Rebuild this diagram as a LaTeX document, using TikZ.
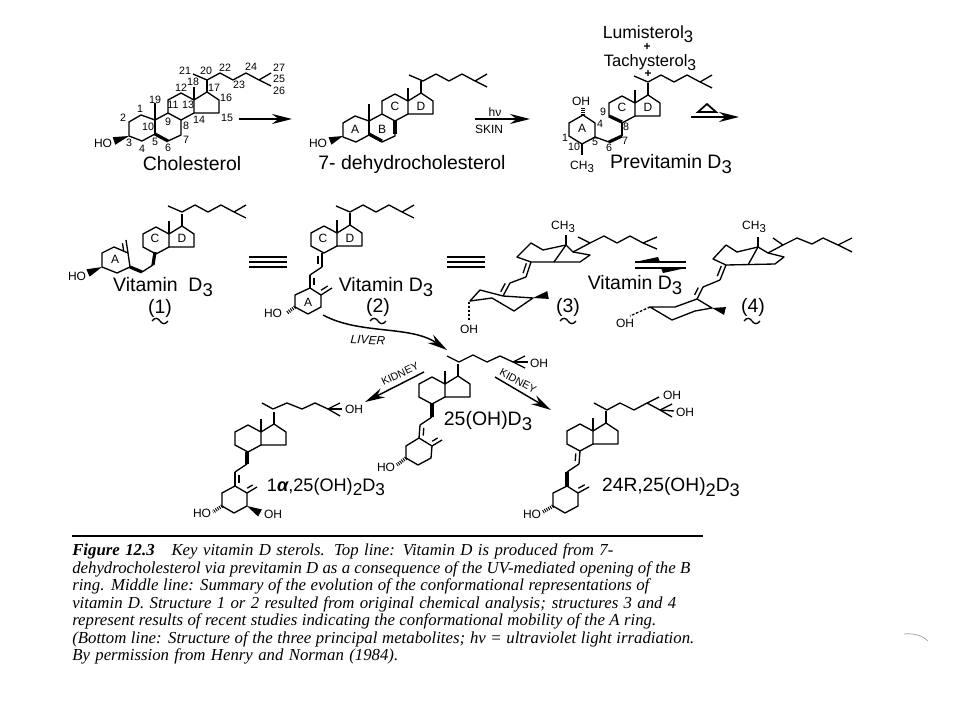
\documentclass[tikz,border=0pt]{standalone}
\usepackage{fontspec}
\setmainfont{Liberation Sans}
\newfontfamily\capfont{Liberation Serif}
\usetikzlibrary{arrows.meta,calc}

\newcommand{\subnum}[1]{\raisebox{-.45ex}{\scalebox{.95}{#1}}}
\newcommand{\wedgebond}[2]{\fill #1 -- ($#2!3pt!90:#1$) -- ($#2!3pt!-90:#1$) -- cycle;}
% second line of a double bond, #3 is 90 or -90 for the side
\newcommand{\dblbond}[3]{\draw[bond] #1 -- #2; \draw[bond, shorten >=2pt, shorten <=2pt] ($#1!3pt!#3:#2$) -- ($#2!3pt!-#3:#1$);}

\tikzset{
  bond/.style={line width=1pt, line join=round},
  boldbond/.style={line width=2.4pt},
  hashbond/.style={line width=2.6pt, dash pattern=on .7pt off .9pt},
  chemlab/.style={font=\fontsize{14.6}{16}\selectfont, inner sep=0pt},
  atomlab/.style={font=\fontsize{9}{10}\selectfont, inner sep=0pt},
  numlab/.style={font=\fontsize{8}{9}\selectfont, inner sep=0pt},
  caplab/.style={font=\capfont\itshape\fontsize{12.6}{14}\selectfont, anchor=base west, inner sep=0pt},
  react/.style={line width=1.1pt, -{Stealth[length=15pt,width=7.5pt]}},
  ringsCD/.pic={
    \draw[bond] (0,0) -- (-13,7) -- (-26,0) -- (-26,-13) -- (-13,-20) -- (0,-13) -- cycle;
    \draw[bond] (0,-13) -- (13,-21) -- (25,-13) -- (25,0) -- (0,0);
    \draw[bond] (0,-13) -- (0,-26);
    \draw[bond] (13,-21) -- (13,-33);
  },
  ringsAB/.pic={
    \draw[bond] (-13,7) -- (-13,22) -- (-26,28) -- (-39,21) -- (-52,28) -- (-65,23) -- (-65,9) -- (-53,2) -- (-39,7) -- (-26,0);
    \draw[bond] (-39,7) -- (-39,21);
    \draw[bond] (-39,7) -- (-39,-10);
  },
  chainend/.pic={
    \draw[bond] (-14,-6) -- (0,0) -- (13,-7) -- (26,0) -- (39,-7) -- (52,0);
    \draw[bond] (52,0) -- (64,-7);
    \draw[bond] (52,0) -- (64,6);
  },
  threebars/.pic={
    \draw[bond] (0,0) -- (38,0);
    \draw[bond] (0,5) -- (38,5);
    \draw[bond] (0,10) -- (38,10);
  },
  wavy/.pic={
    \draw[bond] (-8,0) .. controls (-5,-4) and (-2,-3) .. (0,0) .. controls (2,3) and (5,4) .. (8,0);
  },
}

\begin{document}
\begin{tikzpicture}[x=.75pt,y=-.75pt]
  \useasboundingbox (0,0) rectangle (960,720);

  % top line: cholesterol
  \pic at (194,113) {ringsCD};
  \pic at (194,113) {ringsAB};
  \pic at (207,80) {chainend};
  \draw[boldbond] (155,134) -- (168,141);
  \wedgebond{(129,136)}{(114,141)}
  \node[atomlab] (chol-ho) at (103,143) {HO};
  \foreach \numtxt/\numx/\numy in {21/185/71, 20/206/71, 22/225/68, 24/251/67, 27/279/68, 25/279/79,
      26/279/91, 23/239/85, 18/193/82, 17/214/88, 12/181/88, 16/226/98, 11/173/105, 13/188/105,
      19/155/100, 1/140/109, 2/123/118, 10/148/127, 9/168/122, 8/186/126, 14/199/120, 15/227/118,
      7/186/140, 6/168/148, 5/155/142, 4/142/149, 3/129/143}
    \node[numlab] (chol-\numtxt) at (\numx,\numy) {\numtxt};
  \node[chemlab] (chol-name) at (192,164) {Cholesterol};
  \draw[react] (239,119) -- (292,119);

  % 7-dehydrocholesterol
  \pic at (408,114) {ringsCD};
  \pic at (408,114) {ringsAB};
  \pic at (423,81) {chainend};
  \draw[boldbond] (369,134) -- (382,141);
  \draw[boldbond] (395,134) -- (395,121);
  \wedgebond{(343,136)}{(330,141)}
  \node[atomlab] (dhc-ho) at (318,143) {HO};
  \node[atomlab] (dhc-a) at (355,129) {A};
  \node[atomlab] (dhc-b) at (382,129) {B};
  \node[atomlab] (dhc-c) at (395,106) {C};
  \node[atomlab] (dhc-d) at (421,106) {D};
  \node[chemlab] (dhc-name) at (412,164) {7- dehydrocholesterol};
  \draw[react] (475,119) -- (530,119);
  \node[atomlab] (hv-lab) at (495,112) {hν};
  \node[atomlab] (skin-lab) at (489,129) {SKIN};

  % previtamin
  \pic at (635,116) {ringsCD};
  \pic at (648,82) {chainend};
  \draw[boldbond] (609,116) -- (622,122);
  \draw[bond] (622,122) -- (622,136);
  \draw[boldbond] (622,136) -- (609,142);
  \draw[bond] (609,142) -- (595,137) -- (595,123) -- (583,115) -- (569,123) -- (569,136) -- (582,144) -- (595,137);
  \draw[bond] (582,144) -- (582,155);
  \draw[hashbond] (583,115) -- (583,107);
  \node[atomlab] (prev-oh) at (581,101) {OH};
  \node[atomlab] (prev-a) at (582,128) {A};
  \node[atomlab] (prev-c) at (622,107) {C};
  \node[atomlab] (prev-d) at (648,107) {D};
  \foreach \numtxt/\numx/\numy in {9/603/112, 4/600/124, 8/626/127, 5/595/142, 7/625/141, 6/609/148, 1/565/138, 10/574/147}
    \node[numlab] (prev-\numtxt) at (\numx,\numy) {\numtxt};
  \node[atomlab] (prev-me) at (582,167) {CH\subnum{3}};
  \node[chemlab] (prev-name) at (671,164) {Previtamin D\subnum{3}};
  \node[chemlab, font=\fontsize{13.2}{15}\selectfont] (lumi) at (648,34) {Lumisterol\subnum{3}};
  \node[atomlab] (plus-a) at (647,47) {\bfseries +};
  \node[chemlab, font=\fontsize{12.4}{15}\selectfont] (tachy) at (650,63) {Tachysterol\subnum{3}};
  \node[atomlab] (plus-b) at (648,74) {\bfseries +};
  \draw[react] (691,117) -- (739,117);
  \draw[line width=1.3pt] (707,104) -- (716,112) -- (698,112) -- cycle;

  % middle line: vitamin D3 (1)
  \pic at (169,247) {ringsCD};
  \pic at (182,212) {chainend};
  \draw[boldbond] (155,252) -- (153,265);
  \draw[bond] (153,265) -- (142,272);
  \draw[boldbond] (142,272) -- (130,267);
  \draw[bond] (130,267) -- (117,273) -- (102,267) -- (102,253) -- (114,247) -- (128,253) -- cycle;
  \dblbond{(128,253)}{(126,240)}{90}
  \wedgebond{(102,267)}{(88,273)}
  \node[atomlab] (vit1-ho) at (77,276) {HO};
  \node[atomlab] (vit1-a) at (115,259) {A};
  \node[atomlab] (vit1-c) at (155,238) {C};
  \node[atomlab] (vit1-d) at (182,238) {D};
  \node[chemlab] (vit1-name) at (163,287) {Vitamin\ \ D\subnum{3}};
  \node[chemlab] (vit1-num) at (160,308) {(1)};
  \pic at (160,321) {wavy};

  \pic at (249,257) {threebars};

  % vitamin D3 (2)
  \pic at (337,246) {ringsCD};
  \pic at (350,212) {chainend};
  \dblbond{(322,253)}{(322,267)}{-90}
  \draw[bond] (322,267) -- (310,275);
  \dblbond{(310,275)}{(310,288)}{90}
  \draw[bond] (310,288) -- (321,295) -- (321,307) -- (308,314) -- (295,307) -- (295,295) -- cycle;
  \dblbond{(321,295)}{(332,288)}{90}
  \draw[hashbond] (295,307) -- (287,313);
  \node[atomlab] (vit2-ho) at (273,313) {HO};
  \node[atomlab] (vit2-a) at (308,302) {A};
  \node[atomlab] (vit2-c) at (323,238) {C};
  \node[atomlab] (vit2-d) at (350,238) {D};
  \node[chemlab] (vit2-name) at (386,287) {Vitamin D\subnum{3}};
  \node[chemlab] (vit2-num) at (378,307) {(2)};
  \pic at (378,321) {wavy};
  \draw[react] (323,315) .. controls (360,335) and (410,325) .. (447,350);
  \node[atomlab, rotate=-3] (liver-lab) at (368,340) {\itshape LIVER};

  \pic at (447,257) {threebars};

  % vitamin D3 (3)
  \draw[bond] (517,257) -- (531,243) -- (543,250) -- (566,245) -- (573,252) -- (590,255) -- (580,262) -- (531,262) -- cycle;
  \draw[bond] (566,245) -- (554,262);
  \draw[bond] (566,245) -- (566,235);
  \draw[bond] (573,252) -- (590,243);
  \draw[bond] (578,237) -- (590,243) -- (604,236) -- (617,243) -- (630,236) -- (643,243) -- (657,237);
  \draw[bond] (643,243) -- (657,249);
  \node[atomlab] (vit3-me) at (563,227) {CH\subnum{3}};
  \dblbond{(531,262)}{(526,277)}{-90}
  \draw[bond] (526,277) -- (510,283);
  \dblbond{(510,283)}{(503,296)}{-90}
  \draw[bond] (470,301) -- (480,290) -- (503,296) -- (533,298) -- (514,311) -- (492,298) -- cycle;
  \wedgebond{(533,298)}{(548,295)}
  \draw[bond, dash pattern=on 1.5pt off 1.5pt] (469,302) -- (469,322);
  \node[atomlab] (vit3-oh) at (469,329) {OH};
  \node[chemlab] (vit3-num) at (568,307) {(3)};
  \pic at (568,321) {wavy};

  \draw[bond] (635,262) -- (686,262);
  \fill (635,262) -- (658,257) -- (660,262) -- cycle;
  \draw[bond] (635,268) -- (686,268);
  \fill (686,268) -- (663,273) -- (661,268) -- cycle;
  \node[chemlab] (vit34-name) at (635,285) {Vitamin D\subnum{3}};

  % vitamin D3 (4)
  \draw[bond] (713,259) -- (726,245) -- (737,252) -- (758,247) -- (768,253) -- (784,257) -- (775,264) -- (726,265) -- cycle;
  \draw[bond] (758,247) -- (748,265);
  \draw[bond] (758,247) -- (758,237);
  \draw[bond] (768,253) -- (783,245);
  \draw[bond] (773,238) -- (783,245) -- (797,238) -- (812,244) -- (823,238) -- (838,245) -- (852,238);
  \draw[bond] (838,245) -- (852,252);
  \node[atomlab] (vit4-me) at (754,227) {CH\subnum{3}};
  \dblbond{(726,265)}{(720,280)}{-90}
  \draw[bond] (720,280) -- (703,287);
  \dblbond{(703,287)}{(697,299)}{-90}
  \draw[bond] (650,307) -- (675,307) -- (697,299) -- (712,308) -- (695,311) -- (672,320) -- cycle;
  \wedgebond{(712,308)}{(725,311)}
  \draw[bond, dash pattern=on 2pt off 1.2pt] (650,307) -- (630,316);
  \node[atomlab] (vit4-oh) at (625,323) {OH};
  \node[chemlab] (vit4-num) at (753,307) {(4)};
  \pic at (752,321) {wavy};

  % bottom line: 25(OH)D3
  \pic at (445,397) {ringsCD};
  \draw[bond] (447,356) -- (459,362) -- (473,355) -- (487,362) -- (500,356) -- (513,362);
  \draw[bond] (513,362) -- (525,356);
  \draw[bond] (513,362) -- (525,368);
  \draw[bond] (513,362) -- (528,362);
  \node[atomlab] (d25-oh) at (539,363) {OH};
  \draw[boldbond] (432,404) -- (432,417);
  \draw[bond] (432,417) -- (420,425);
  \dblbond{(420,425)}{(419,438)}{90}
  \draw[bond] (419,438) -- (432,446) -- (431,458) -- (418,465) -- (406,458) -- (406,446) -- cycle;
  \dblbond{(432,446)}{(442,440)}{90}
  \draw[hashbond] (406,458) -- (397,465);
  \node[atomlab] (d25-ho) at (386,467) {HO};
  \node[chemlab] (d25-name) at (488,421) {25(OH)D\subnum{3}};
  \draw[react] (424,372) -- (365,402);
  \node[numlab, rotate=25] (kidney-a) at (400,374) {KIDNEY};
  \draw[react] (495,377) -- (551,410);
  \node[numlab, rotate=-28] (kidney-b) at (518,381) {KIDNEY};

  % 1 alpha, 25(OH)2D3
  \pic at (261,445) {ringsCD};
  \draw[bond] (262,403) -- (273,409) -- (287,403) -- (302,409) -- (315,403) -- (328,409);
  \draw[bond] (328,409) -- (340,403);
  \draw[bond] (328,409) -- (340,416);
  \draw[bond] (328,409) -- (342,409);
  \node[atomlab] (d1a-oh) at (354,409) {OH};
  \draw[boldbond] (247,452) -- (247,464);
  \draw[bond] (247,464) -- (235,472);
  \dblbond{(235,472)}{(235,486)}{90}
  \draw[bond] (235,486) -- (247,493) -- (247,506) -- (234,513) -- (222,506) -- (222,493) -- cycle;
  \dblbond{(247,493)}{(257,487)}{90}
  \draw[hashbond] (222,506) -- (213,512);
  \node[atomlab] (d1a-ho) at (202,513) {HO};
  \wedgebond{(247,506)}{(260,513)}
  \node[atomlab] (d1a-ohb) at (273,514) {OH};
  \node[chemlab, font=\fontsize{13.6}{16}\selectfont] (d1a-name) at (326,487) {1{\bfseries\itshape α},25(OH)\subnum{2}D\subnum{3}};

  % 24R,25(OH)2D3
  \pic at (593,444) {ringsCD};
  \draw[bond] (594,403) -- (607,410) -- (620,403) -- (634,410) -- (647,403);
  \draw[bond] (647,403) -- (659,397);
  \draw[bond] (647,403) -- (660,410);
  \draw[bond] (660,410) -- (672,404);
  \draw[bond] (660,410) -- (672,417);
  \draw[bond] (660,410) -- (674,411);
  \node[atomlab] (d24-oha) at (672,395) {OH};
  \node[atomlab] (d24-ohb) at (685,412) {OH};
  \dblbond{(580,451)}{(579,464)}{-90}
  \draw[bond] (579,464) -- (567,472);
  \draw[boldbond] (567,472) -- (567,486);
  \draw[bond] (567,486) -- (578,493) -- (578,506) -- (565,513) -- (553,506) -- (553,493) -- cycle;
  \dblbond{(578,493)}{(589,487)}{90}
  \draw[hashbond] (553,506) -- (543,512);
  \node[atomlab] (d24-ho) at (532,514) {HO};
  \node[chemlab, font=\fontsize{14.4}{16}\selectfont] (d24-name) at (671,487) {24R,25(OH)\subnum{2}D\subnum{3}};

  % caption
  \draw[line width=1pt] (72,536) -- (703,536);
  \node[caplab] (cap-a) at (72,555.5) {\makebox[405.8pt][s]{{\bfseries Figure 12.3}\quad Key vitamin D sterols. Top line: Vitamin D is produced from 7-}};
  \node[caplab] (cap-b) at (72,573) {\makebox[463.5pt][s]{dehydrocholesterol via previtamin D as a consequence of the UV-mediated opening of the B}};
  \node[caplab] (cap-c) at (72,590.5) {\makebox[432.8pt][s]{ring. Middle line: Summary of the evolution of the conformational representations of}};
  \node[caplab] (cap-d) at (72,608) {\makebox[453pt][s]{vitamin D. Structure 1 or 2 resulted from original chemical analysis; structures 3 and 4}};
  \node[caplab] (cap-e) at (72,625.5) {\makebox[438pt][s]{represent results of recent studies indicating the conformational mobility of the A ring.}};
  \node[caplab] (cap-f) at (72,643) {\makebox[466.5pt][s]{(Bottom line: Structure of the three principal metabolites; hν = ultraviolet light irradiation.}};
  \node[caplab] (cap-g) at (72,660.5) {\makebox[244.5pt][s]{By permission from Henry and Norman (1984).}};

  % stray mark
  \draw[black!35, line width=.6pt] (904,634) .. controls (915,633) and (923,636) .. (928,641);
\end{tikzpicture}
\end{document}
